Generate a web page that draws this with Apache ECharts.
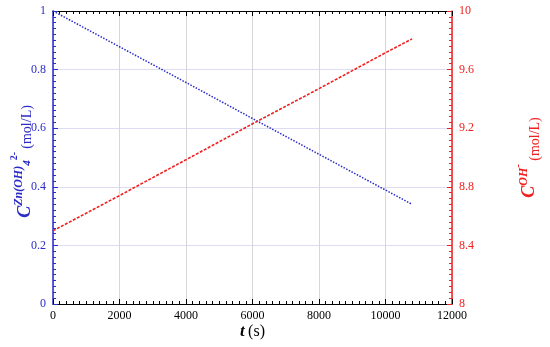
<!DOCTYPE html>
<html><head><meta charset="utf-8">
<script src="https://cdn.jsdelivr.net/npm/echarts@6/dist/echarts.min.js"></script>
<style>html,body{margin:0;padding:0;background:#fff}#c{width:550px;height:347px}</style>
</head><body><div id="c"></div>
<script>
const times = [0, 2000, 4000, 6000, 8000, 10000, 10800];
const znConc = [1.0, 0.878, 0.756, 0.633, 0.511, 0.389, 0.34];
const ohConc = [8.50, 8.74, 8.985, 9.23, 9.47, 9.715, 9.81];
const xTicks = [0, 2000, 4000, 6000, 8000, 10000, 12000];
const leftTicks = [0, 0.2, 0.4, 0.6, 0.8, 1];
const rightTicks = [8, 8.4, 8.8, 9.2, 9.6, 10];

const BLUE = '#2b2bc8', RED = '#f02020', FONT = 'Liberation Serif';
const chart = echarts.init(document.getElementById('c'));
const pair = (xs, ys) => xs.map((x, i) => [x, ys[i]]);
const tok = (size, color, lh, p, bold, italic) => ({fontFamily: FONT, fontSize: size, fontWeight: bold ? 'bold' : 'normal',
  fontStyle: italic ? 'italic' : 'normal', color, verticalAlign: 'top', lineHeight: lh, padding: [p, 0, 0, 0]});
chart.setOption({
  animation: false,
  grid: {left: 53, right: 98, top: 11, bottom: 43, outerBoundsMode: 'none', containLabel: false},
  xAxis: [{
    type: 'value', min: xTicks[0], max: xTicks[xTicks.length - 1], interval: 2000,
    position: 'bottom',
    name: '{b|t} {n|(s)}', nameLocation: 'middle', nameGap: 19, nameMoveOverlap: false,
    nameTextStyle: {rich: {b: {fontFamily: FONT, fontSize: 17, fontWeight: 'bold', fontStyle: 'italic', color: '#000'},
                           n: {fontFamily: FONT, fontSize: 16, color: '#000'}}},
    axisLine: {onZero: false, lineStyle: {color: '#000', width: 1}},
    axisTick: {inside: true, length: 5, lineStyle: {color: '#000'}},
    minorTick: {show: true, splitNumber: 10, length: 3, lineStyle: {color: '#000'}},
    axisLabel: {fontFamily: FONT, fontSize: 12, color: '#000', margin: 6, formatter: v => String(v)},
    splitLine: {show: true, lineStyle: {color: '#d6d6d6', width: 1}}
  }, {
    type: 'value', min: xTicks[0], max: xTicks[xTicks.length - 1], interval: 2000,
    position: 'top',
    axisLine: {onZero: false, lineStyle: {color: '#000', width: 1}},
    axisTick: {inside: true, length: 5, lineStyle: {color: '#000'}},
    minorTick: {show: true, splitNumber: 10, length: 3, lineStyle: {color: '#000'}},
    axisLabel: {show: false}, splitLine: {show: false}
  }],
  yAxis: [{
    type: 'value', min: leftTicks[0], max: leftTicks[leftTicks.length - 1], interval: 0.2,
    position: 'left',
    name: '{c|C}{s|Zn(OH)}{d|4}{t|2-} {u|(mol/L)}', nameLocation: 'middle', nameRotate: 90, nameGap: 18, nameMoveOverlap: false,
    nameTextStyle: {padding: [0, 8, 0, 0], rich: {
      c: tok(18, BLUE, 26, 7, true, true), s: tok(12, BLUE, 26, 4, true, true), d: tok(11, BLUE, 26, 13, true, true),
      t: tok(10, BLUE, 26, 0, true, false), u: tok(14, BLUE, 26, 11, false, false)
    }},
    axisLine: {show: true, onZero: false, lineStyle: {color: BLUE, width: 1.5}},
    axisTick: {show: true, inside: true, length: 5, lineStyle: {color: BLUE}},
    minorTick: {show: true, splitNumber: 10, length: 3, lineStyle: {color: BLUE}},
    axisLabel: {fontFamily: FONT, fontSize: 12, color: BLUE, margin: 7},
    splitLine: {show: true, lineStyle: {color: '#dcdcf2', width: 1}}
  }, {
    type: 'value', min: rightTicks[0], max: rightTicks[rightTicks.length - 1], interval: 0.4,
    position: 'right',
    name: '{c|C}{s|OH}{t|-} {u|(mol/L)}', nameLocation: 'middle', nameRotate: 90, nameGap: 61, nameMoveOverlap: false,
    nameTextStyle: {rich: {
      c: tok(18, RED, 30, 7, true, true), s: tok(12, RED, 30, 5, true, true), t: tok(11, RED, 30, 0, true, false),
      u: tok(14, RED, 30, 15, false, false)
    }},
    axisLine: {show: true, onZero: false, lineStyle: {color: RED, width: 1.5}},
    axisTick: {show: true, inside: true, length: 5, lineStyle: {color: RED}},
    minorTick: {show: true, splitNumber: 10, length: 3, lineStyle: {color: RED}},
    axisLabel: {fontFamily: FONT, fontSize: 12, color: RED, margin: 7},
    splitLine: {show: false}
  }],
  series: [{
    type: 'line', xAxisIndex: 0, yAxisIndex: 0, data: pair(times, znConc),
    showSymbol: false, lineStyle: {color: BLUE, width: 1.5, type: 'dotted'}
  }, {
    type: 'line', xAxisIndex: 0, yAxisIndex: 1, data: pair(times, ohConc),
    showSymbol: false, lineStyle: {color: RED, width: 1.6, type: [3, 1.5]}
  }]
});
</script></body></html>
